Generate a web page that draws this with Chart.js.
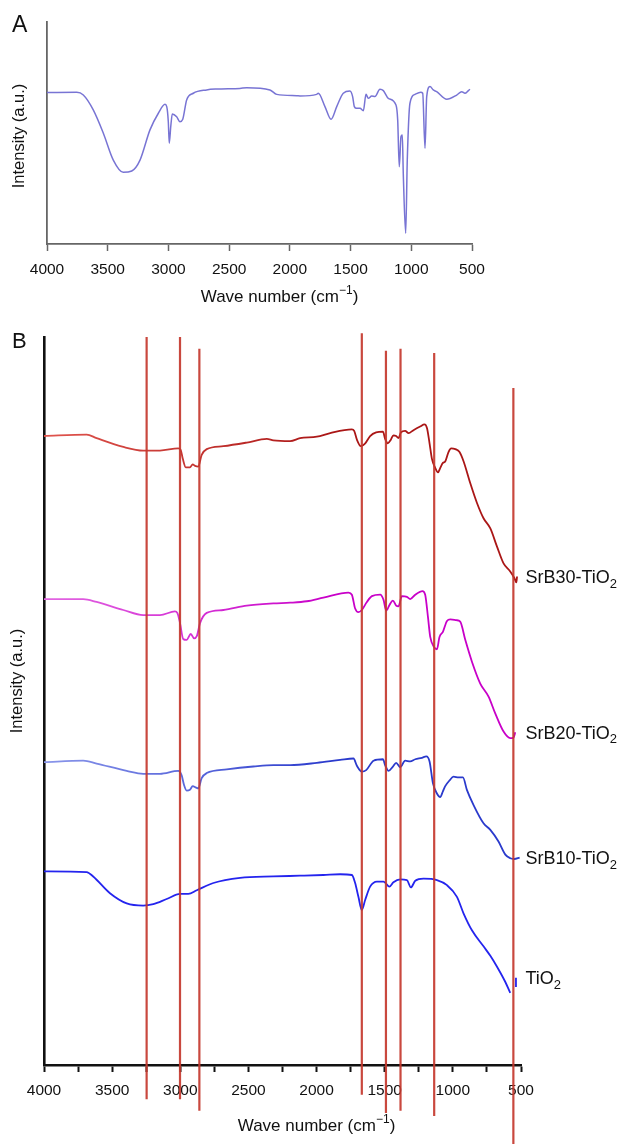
<!DOCTYPE html>
<html>
<head>
<meta charset="utf-8">
<title>FTIR spectra</title>
<script src="https://cdn.jsdelivr.net/npm/chart.js@4.4.1/dist/chart.umd.min.js"></script>
<style>
  html, body { margin: 0; padding: 0; background: #fff; }
  #wrap { position: relative; width: 622px; height: 1144px; overflow: hidden; }
  canvas { position: absolute; left: 0; }
  #chart-a { top: 0; }
  #chart-b { top: 316px; }
</style>
</head>
<body>
<div id="wrap">
  <canvas id="chart-a" width="622" height="316"></canvas>
  <canvas id="chart-b" width="622" height="828"></canvas>
</div>
<script>
'use strict';

// ---- Panel A: single spectrum (wave number cm-1 / intensity a.u.)
const aWave = [4000, 3755, 3701, 3619, 3536, 3454, 3372, 3302, 3234, 3152, 3083, 3028, 3014, 3001, 2993, 2981, 2968, 2932, 2905, 2882,
  2850, 2795, 2685, 2602, 2411, 2355, 2164, 2108, 1944, 1916, 1779, 1766, 1711, 1661, 1614, 1560, 1505, 1483, 1469, 1450,
  1422, 1395, 1373, 1354, 1326, 1299, 1258, 1230, 1189, 1126, 1112, 1099, 1085, 1074, 1066, 1046, 1033, 1011, 969, 922,
  906, 887, 873, 846, 819, 791, 708, 626, 585, 558, 530, 517];
const aInt = [68.2, 68.3, 67.1, 60.4, 49.9, 37.8, 32.3, 32.9, 37.8, 51.4, 58.9, 62.9, 61.9, 55.1, 45.4, 52.8, 58.6, 57.3, 55.1, 56.2,
  64.9, 67.9, 69.4, 69.8, 70.1, 70.4, 69.4, 67.4, 66.8, 66.7, 67.4, 67.9, 61.9, 56.2, 61.9, 67.9, 68.9, 66.4, 61.9, 61.1,
  61.1, 60.0, 67.4, 65.6, 66.7, 66.4, 69.7, 69.1, 65.6, 62.6, 55.9, 34.8, 48.3, 49.1, 31.9, 4.8, 37.8, 63.4, 67.4, 68.3,
  67.9, 43.1, 66.4, 70.9, 69.4, 68.6, 65.2, 67.1, 68.6, 67.9, 69.1, 69.7];

// ---- Panel B: stacked spectra
const srb30Wave = [4000, 3687, 3614, 3418, 3272, 3149, 3015, 2997, 2982, 2960, 2929, 2909, 2892, 2868, 2843, 2806, 2684, 2512, 2365, 2317,
  2194, 2121, 1998, 1900, 1741, 1724, 1704, 1675, 1643, 1607, 1563, 1513, 1497, 1477, 1455, 1436, 1416, 1399, 1381, 1350,
  1325, 1289, 1240, 1208, 1190, 1171, 1154, 1129, 1109, 1093, 1073, 1056, 1032, 1012, 982, 951, 921, 872, 823, 775,
  725, 676, 628, 579, 549, 534, 529];
const srb30Int = [86.4, 86.6, 86.1, 84.9, 84.4, 84.4, 84.7, 84.5, 83.3, 82.1, 82.1, 82.5, 82.3, 82.2, 83.8, 84.6, 85.0, 85.5, 86.0, 85.8,
  85.7, 86.1, 86.3, 86.8, 87.3, 87.1, 85.9, 85.0, 85.4, 86.4, 86.9, 87.0, 86.0, 85.4, 85.9, 86.5, 86.4, 86.1, 86.9, 87.1,
  86.8, 87.2, 87.7, 88.0, 87.5, 85.4, 83.3, 82.0, 81.4, 82.0, 82.7, 82.9, 84.2, 84.7, 84.6, 84.2, 82.9, 79.9, 77.2, 75.1,
  73.7, 71.2, 68.9, 67.8, 66.9, 66.3, 67.1];

const srb20Wave = [4000, 3712, 3614, 3418, 3272, 3149, 3039, 3022, 3002, 2978, 2953, 2923, 2899, 2879, 2855, 2806, 2684, 2512, 2317, 2194,
  2072, 1950, 1766, 1741, 1717, 1693, 1668, 1631, 1594, 1533, 1509, 1489, 1465, 1440, 1416, 1399, 1374, 1337, 1313, 1276,
  1223, 1203, 1183, 1166, 1137, 1117, 1098, 1073, 1043, 1019, 975, 946, 909, 860, 799, 738, 689, 628, 579, 554, 542];
const srb20Int = [64.0, 64.0, 63.6, 62.5, 61.8, 61.8, 62.3, 62.1, 60.7, 58.5, 58.4, 59.2, 58.6, 58.9, 60.7, 62.1, 62.5, 63.1, 63.4, 63.5,
  63.7, 64.2, 64.9, 64.6, 62.7, 62.2, 62.5, 63.6, 64.4, 64.6, 63.9, 62.4, 63.2, 63.8, 63.1, 63.0, 64.4, 64.3, 64.0, 64.6,
  65.1, 64.6, 61.6, 58.8, 57.4, 57.1, 58.8, 59.5, 61.0, 61.2, 61.1, 60.9, 58.4, 55.4, 52.4, 50.6, 48.3, 45.8, 44.9, 45.0, 45.7];

const srb10Wave = [4000, 3712, 3614, 3393, 3272, 3149, 3015, 2990, 2973, 2953, 2929, 2909, 2884, 2868, 2843, 2806, 2659, 2464, 2317, 2194,
  1998, 1827, 1729, 1704, 1668, 1636, 1582, 1513, 1497, 1472, 1440, 1416, 1386, 1350, 1313, 1276, 1227, 1195, 1171, 1146,
  1117, 1093, 1073, 1056, 1024, 995, 958, 926, 897, 848, 775, 725, 665, 615, 579, 549, 510];
const srb10Int = [41.6, 41.8, 41.4, 40.4, 40.0, 40.0, 40.4, 39.8, 38.5, 37.7, 37.8, 38.3, 38.1, 38.0, 39.4, 40.1, 40.6, 41.0, 41.2, 41.2,
  41.5, 41.9, 42.1, 41.1, 40.3, 40.5, 41.8, 42.0, 41.2, 40.4, 41.0, 41.5, 40.9, 41.8, 41.7, 42.0, 42.2, 42.4, 41.7, 38.7,
  37.3, 36.8, 37.6, 38.3, 39.1, 39.6, 39.5, 39.5, 37.8, 35.7, 33.2, 32.3, 30.7, 28.9, 28.4, 28.3, 28.5];

// last three entries: gap, then the short end bar
const tio2Wave = [4000, 3687, 3639, 3516, 3393, 3272, 3198, 3100, 3002, 2941, 2879, 2757, 2561, 2317, 2121, 1950, 1827, 1741, 1717, 1693,
  1668, 1643, 1607, 1557, 1509, 1465, 1436, 1386, 1337, 1308, 1276, 1215, 1117, 1043, 970, 921, 860, 775, 725, 676,
  615, 579, 560, 537, 537];
const tio2Int = [26.6, 26.5, 25.9, 23.6, 22.2, 21.9, 22.1, 22.8, 23.5, 23.5, 24.0, 25.0, 25.7, 25.9, 26.0, 26.1, 26.2, 26.1, 25.0, 23.1,
  21.3, 22.7, 24.5, 25.2, 25.2, 24.5, 25.1, 25.5, 25.4, 24.4, 25.3, 25.6, 25.4, 24.7, 23.1, 20.8, 18.5, 16.3, 15.0, 13.5,
  11.4, 9.9, null, 10.7, 12.0];

// red marker lines (wave number, top and bottom end in a.u.)
const peakWave = [3247, 3002, 2860, 1668, 1491, 1384, 1137, 556];
const peakTop = [100, 100, 98.4, 100.5, 98.1, 98.4, 97.8, 93.0];
const peakBottom = [-4.7, -4.7, -6.3, -4.1, -6.6, -6.3, -7.0, -14];

const seriesNames = ['SrB30-TiO', 'SrB20-TiO', 'SrB10-TiO', 'TiO'];
const tickLabelsA = [4000, 3500, 3000, 2500, 2000, 1500, 1000, 500];

const FONT = '"Liberation Sans", Arial, Helvetica, sans-serif';
Chart.defaults.font.family = FONT;

function pts(xs, ys) { return xs.map((x, i) => ({ x, y: ys[i] })); }

function peakLines() {
  const out = [];
  peakWave.forEach((w, i) => {
    out.push({ x: w, y: peakTop[i] }, { x: w, y: peakBottom[i] }, { x: w, y: null });
  });
  return out;
}

function grad(c1, c2) {
  return ctx => {
    const { chart } = ctx;
    const ca = chart.chartArea;
    if (!ca) return c2;
    const g = chart.ctx.createLinearGradient(ca.left, 0, ca.right, 0);
    g.addColorStop(0, c1);
    g.addColorStop(0.6, c2);
    g.addColorStop(1, c2);
    return g;
  };
}

// text with a raised / lowered small part: base + small + tail
function drawScript(ctx, base, small, tail, x, y, size, dy, center) {
  const big = `${size}px ${FONT}`;
  const little = `${Math.round(size * 0.7)}px ${FONT}`;
  ctx.font = big;
  const w1 = ctx.measureText(base).width;
  const w3 = tail ? ctx.measureText(tail).width : 0;
  ctx.font = little;
  const w2 = ctx.measureText(small).width;
  const x0 = center ? x - (w1 + w2 + w3) / 2 : x;
  ctx.textAlign = 'left';
  ctx.textBaseline = 'middle';
  ctx.font = big;
  ctx.fillText(base, x0, y);
  ctx.font = little;
  ctx.fillText(small, x0 + w1, y + dy);
  if (tail) { ctx.font = big; ctx.fillText(tail, x0 + w1 + w2, y); }
}

const panelText = {
  id: 'panelText',
  afterDraw(chart, args, o) {
    const { ctx, chartArea: ca, scales } = chart;
    ctx.save();
    ctx.fillStyle = '#111';
    ctx.textBaseline = 'middle';
    ctx.textAlign = 'left';
    ctx.font = `${o.letterSize}px ${FONT}`;
    ctx.fillText(o.letter, 12, o.letterY);

    ctx.save();
    ctx.translate(o.yTitleX, (ca.top + ca.bottom) / 2 + o.yTitleShift);
    ctx.rotate(-Math.PI / 2);
    ctx.textAlign = 'center';
    ctx.font = `16.5px ${FONT}`;
    ctx.fillText('Intensity (a.u.)', 0, 0);
    ctx.restore();

    drawScript(ctx, 'Wave number (cm', '\u22121', ')', (ca.left + ca.right) / 2 + o.xTitleShift, ca.bottom + o.xTitleGap, 17, -6, true);

    (o.labels || []).forEach(l => {
      const data = chart.data.datasets[l.index].data;
      const last = data[data.length - 1];
      const y = scales.y.getPixelForValue(last.y) + 1.5;
      drawScript(ctx, l.text, '2', '', ca.right + 4.5, y, 18, 6, false);
    });
    ctx.restore();
  }
};

const axisFont = { family: FONT, size: 15.5 };

new Chart(document.getElementById('chart-a'), {
  type: 'line',
  data: {
    datasets: [{
      data: pts(aWave, aInt), borderColor: '#7874d4', borderWidth: 1.5,
      pointRadius: 0, cubicInterpolationMode: 'monotone'
    }]
  },
  options: {
    responsive: false, animation: false,
    layout: { padding: { left: 0, right: 150, top: 22, bottom: 0 } },
    plugins: {
      legend: { display: false }, tooltip: { enabled: false },
      panelText: { letter: 'A', letterSize: 23, letterY: 26, yTitleX: 19, yTitleShift: 3, xTitleShift: 20, xTitleGap: 53 }
    },
    scales: {
      x: {
        type: 'linear', min: 500, max: 4000, reverse: true,
        afterBuildTicks: s => { s.ticks = tickLabelsA.map(v => ({ value: v })); },
        ticks: { autoSkip: false, maxRotation: 0, padding: 9, color: '#111', font: axisFont, callback: v => String(v) },
        grid: { display: true, drawOnChartArea: false, drawTicks: true, tickLength: 7, tickWidth: 1.5, tickColor: '#666' },
        border: { display: true, color: '#666', width: 1.8 },
        afterFit: s => { s.height = 72; }
      },
      y: {
        min: 0, max: 100,
        ticks: { display: false }, grid: { display: false },
        border: { display: true, color: '#666', width: 1.8 },
        afterFit: s => { s.width = 47; }
      }
    }
  },
  plugins: [panelText]
});

new Chart(document.getElementById('chart-b'), {
  type: 'line',
  data: {
    datasets: [
      { data: peakLines(), borderColor: 'rgba(196,56,46,0.92)', borderWidth: 2.2, pointRadius: 0, clip: false },
      { data: pts(srb30Wave, srb30Int), borderColor: grad('#e0554e', '#aa1616'), borderWidth: 1.8, pointRadius: 0, cubicInterpolationMode: 'monotone' },
      { data: pts(srb20Wave, srb20Int), borderColor: grad('#e266e2', '#c800c8'), borderWidth: 1.8, pointRadius: 0, cubicInterpolationMode: 'monotone' },
      { data: pts(srb10Wave, srb10Int), borderColor: grad('#8a96ea', '#2a3acc'), borderWidth: 1.8, pointRadius: 0, cubicInterpolationMode: 'monotone' },
      { data: pts(tio2Wave, tio2Int), borderColor: '#2424ee', borderWidth: 1.8, pointRadius: 0, cubicInterpolationMode: 'monotone' }
    ]
  },
  options: {
    responsive: false, animation: false,
    layout: { padding: { left: 0, right: 101, top: 21, bottom: 0 } },
    plugins: {
      legend: { display: false }, tooltip: { enabled: false },
      panelText: {
        letter: 'B', letterSize: 22, letterY: 26, yTitleX: 17, yTitleShift: -20, xTitleShift: 34, xTitleGap: 61,
        labels: seriesNames.map((text, i) => ({ text, index: i + 1 }))
      }
    },
    scales: {
      x: {
        type: 'linear', min: 500, max: 4000, reverse: true,
        ticks: { stepSize: 250, autoSkip: false, maxRotation: 0, padding: 9, color: '#111', font: axisFont,
          callback: v => (v % 500 === 0 ? String(v) : '') },
        grid: { display: true, drawOnChartArea: false, drawTicks: true, tickLength: 7, tickWidth: 2, tickColor: '#111' },
        border: { display: true, color: '#111', width: 2.6 },
        afterFit: s => { s.height = 79; }
      },
      y: {
        min: 0, max: 100,
        ticks: { display: false }, grid: { display: false },
        border: { display: true, color: '#111', width: 2.6 },
        afterFit: s => { s.width = 44; }
      }
    }
  },
  plugins: [panelText]
});
</script>
</body>
</html>
